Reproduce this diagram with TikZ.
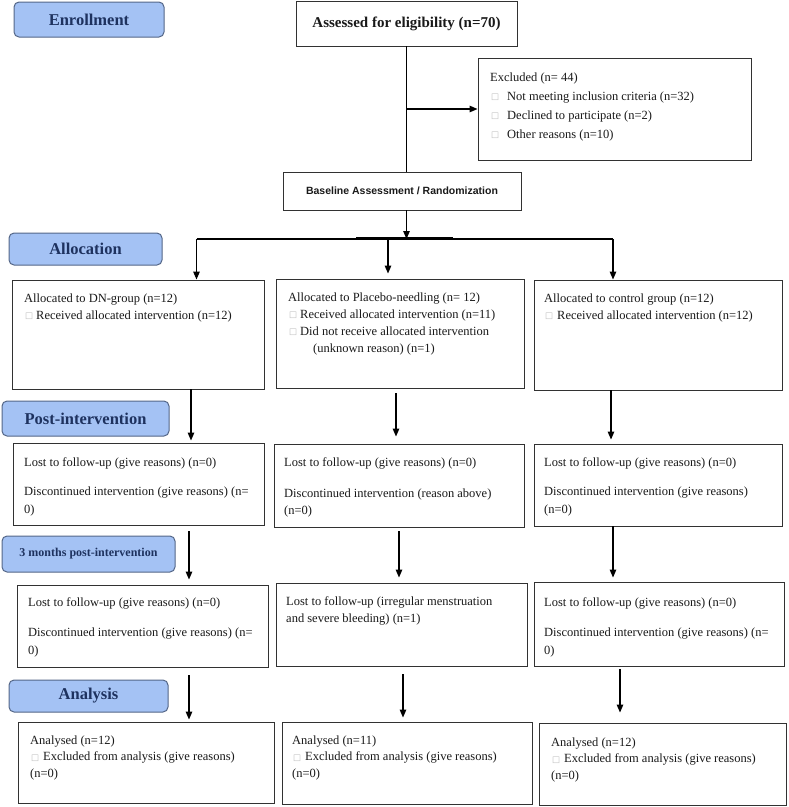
\documentclass[tikz,border=0pt]{standalone}
\usepackage{fontspec}
\setmainfont{Liberation Serif}
\newfontfamily\arialf{Liberation Sans}
\newfontfamily\dvsans{DejaVu Sans}
\usetikzlibrary{arrows.meta}
\definecolor{lblfill}{RGB}{164,194,244}
\definecolor{lbldraw}{RGB}{84,102,135}
\definecolor{lbltext}{RGB}{30,50,95}
\definecolor{boxc}{RGB}{50,50,50}
\definecolor{txtc}{RGB}{25,25,25}
\newcommand{\bx}{{\dvsans\fontsize{8.5}{8.5}\selectfont\color{black!28}\raisebox{0.5pt}{□}}}
\newcommand{\bul}[1]{\makebox[#1][l]{\hspace{1pt}\bx}}
\begin{document}
\begin{tikzpicture}[x=1pt,y=-1pt,
 box/.style={draw=boxc,line width=0.9pt,inner sep=0pt,rectangle},
 stagelbl/.style={draw=lbldraw,fill=lblfill,line width=1pt,rounded corners=5pt,inner sep=0pt,text=lbltext,font=\bfseries\fontsize{16.5}{18}\selectfont},
 txt/.style={anchor=north west,inner sep=0pt,align=left,text=txtc,font=\fontsize{12.5}{17}\selectfont},
 arr/.style={line width=1.2pt,-{Triangle[length=8pt,width=6.5pt]}},
 ln/.style={line width=1.2pt}]
\useasboundingbox (0,0) rectangle (789,807);

% stage labels
\node[stagelbl,minimum width=150pt,minimum height=35pt] (lenr) at (89,19.5) {Enrollment};
\node[stagelbl,minimum width=153pt,minimum height=32pt] (lall) at (85.5,249) {Allocation};
\node[stagelbl,minimum width=167pt,minimum height=35pt] (lpost) at (85.5,418.5) {Post-intervention};
\node[stagelbl,minimum width=173pt,minimum height=36pt,font=\bfseries\fontsize{12}{14}\selectfont] (l3m) at (88.5,554) {3 months post-intervention};
\node[stagelbl,minimum width=159pt,minimum height=32pt] (lan) at (88.5,696) {Analysis};

% top boxes
\node[box,minimum width=221pt,minimum height=45pt,font=\bfseries\fontsize{15}{17}\selectfont,text=txtc] (assess) at (406.5,23.5) {Assessed for eligibility (n=70)};
\node[box,minimum width=273pt,minimum height=102pt] (excl) at (614.5,109) {};
\node[txt,font=\fontsize{12.5}{19}\selectfont] (exclt) at (490,72.5) {Excluded (n= 44)\\\bul{17pt}Not meeting inclusion criteria (n=32)\\\bul{17pt}Declined to participate (n=2)\\\bul{17pt}Other reasons (n=10)};
\node[box,minimum width=238pt,minimum height=38pt,font=\arialf\bfseries\fontsize{10.5}{12}\selectfont,text=txtc] (base) at (402,191) {Baseline Assessment / Randomization};

% allocation boxes
\node[box,minimum width=252pt,minimum height=109pt] (dn1) at (138,334.5) {};
\node[box,minimum width=248pt,minimum height=109pt] (pl1) at (400,333.5) {};
\node[box,minimum width=248pt,minimum height=110pt] (ct1) at (658,335) {};
\node[txt] (dn1t) at (24,293.5) {Allocated to DN-group (n=12)\\\bul{12pt}Received allocated intervention (n=12)};
\node[txt] (pl1t) at (288,292.5) {Allocated to Placebo-needling (n= 12)\\\bul{12pt}Received allocated intervention (n=11)\\\bul{12pt}Did not receive allocated intervention\\\hspace*{25pt}(unknown reason) (n=1)};
\node[txt] (ct1t) at (544,293.5) {Allocated to control group (n=12)\\\bul{13pt}Received allocated intervention (n=12)};

% post-intervention boxes
\node[box,minimum width=251pt,minimum height=82pt] (dn2) at (138.5,484) {};
\node[box,minimum width=250pt,minimum height=83pt] (pl2) at (399,485.5) {};
\node[box,minimum width=248pt,minimum height=82pt] (ct2) at (658,485) {};
\node[txt,font=\fontsize{12.5}{18}\selectfont] (dn2t) at (24,457.5) {Lost to follow-up (give reasons) (n=0)\\[11pt]Discontinued intervention (give reasons) (n=\\0)};
\node[txt,font=\fontsize{12.5}{17}\selectfont] (pl2t) at (284,457.5) {Lost to follow-up (give reasons) (n=0)\\[14pt]Discontinued intervention (reason above)\\(n=0)};
\node[txt,font=\fontsize{12.5}{18}\selectfont] (ct2t) at (544,457.5) {Lost to follow-up (give reasons) (n=0)\\[11pt]Discontinued intervention (give reasons)\\(n=0)};

% 3 months boxes
\node[box,minimum width=251pt,minimum height=82pt] (dn3) at (142.5,626) {};
\node[box,minimum width=251pt,minimum height=83pt] (pl3) at (401.5,624.5) {};
\node[box,minimum width=250pt,minimum height=84pt] (ct3) at (659,624) {};
\node[txt,font=\fontsize{12.5}{18}\selectfont] (dn3t) at (28,597.5) {Lost to follow-up (give reasons) (n=0)\\[12pt]Discontinued intervention (give reasons) (n=\\0)};
\node[txt] (pl3t) at (286,596.5) {Lost to follow-up (irregular menstruation\\and severe bleeding) (n=1)};
\node[txt,font=\fontsize{12.5}{18}\selectfont] (ct3t) at (544,597.5) {Lost to follow-up (give reasons) (n=0)\\[12pt]Discontinued intervention (give reasons) (n=\\0)};

% analysis boxes
\node[box,minimum width=256pt,minimum height=81pt] (dn4) at (146,762.5) {};
\node[box,minimum width=250pt,minimum height=82pt] (pl4) at (407,763) {};
\node[box,minimum width=247pt,minimum height=82pt] (ct4) at (662.5,764) {};
\node[txt,font=\fontsize{12.5}{16.5}\selectfont] (dn4t) at (30,735.5) {Analysed (n=12)\\\bul{13pt}Excluded from analysis (give reasons)\\(n=0)};
\node[txt,font=\fontsize{12.5}{16.5}\selectfont] (pl4t) at (292,735.5) {Analysed (n=11)\\\bul{13pt}Excluded from analysis (give reasons)\\(n=0)};
\node[txt,font=\fontsize{12.5}{16.5}\selectfont] (ct4t) at (551,737.5) {Analysed (n=12)\\\bul{13pt}Excluded from analysis (give reasons)\\(n=0)};

% top connectors
\draw[ln] (assess.south) -- (assess.south |- base.north);
\draw[arr] (assess.south |- excl.west) -- (excl.west);
\coordinate (split) at (406.5,239);
\coordinate (hl) at (196.5,239);
\coordinate (hm) at (388,239);
\coordinate (hr) at (613,239);
\draw[arr] (split |- base.south) -- (split);
\draw[ln] (hl) -- (hr);
\draw[line width=2.6pt] (356,238.5) -- (453,238.5);
\draw[arr] (hl) -- (hl |- dn1.north);
\draw[arr,shorten >=5pt] (hm) -- (hm |- pl1.north);
\draw[arr] (hr) -- (hr |- ct1.north);

% column connectors
\draw[arr,shorten >=2pt] (dn1.south -| 191,0) -- (dn2.north -| 191,0);
\draw[arr,shorten <=6pt,shorten >=5pt] (dn2.south -| 189,0) -- (dn3.north -| 189,0);
\draw[arr,shorten <=8pt,shorten >=2pt] (dn3.south -| 189,0) -- (dn4.north -| 189,0);
\draw[arr,shorten <=5pt,shorten >=7pt] (pl1.south -| 396,0) -- (pl2.north -| 396,0);
\draw[arr,shorten <=4pt,shorten >=5pt] (pl2.south -| 399,0) -- (pl3.north -| 399,0);
\draw[arr,shorten <=8pt,shorten >=4pt] (pl3.south -| 403,0) -- (pl4.north -| 403,0);
\draw[arr,shorten >=4pt] (ct1.south -| 611,0) -- (ct2.north -| 611,0);
\draw[arr,shorten >=4pt] (ct2.south -| 613,0) -- (ct3.north -| 613,0);
\draw[arr,shorten <=3pt,shorten >=10pt] (ct3.south -| 620,0) -- (ct4.north -| 620,0);
\end{tikzpicture}
\end{document}
